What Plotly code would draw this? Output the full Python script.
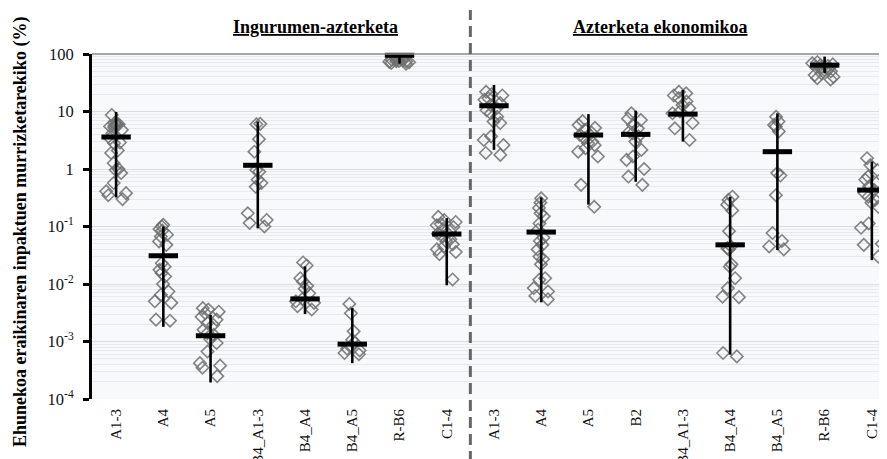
import plotly.graph_objects as go

# ---------------- data ----------------
labels = ["A1-3", "A4", "A5", "B4_A1-3", "B4_A4", "B4_A5", "R-B6", "C1-4",
          "A1-3", "A4", "A5", "B2", "B4_A1-3", "B4_A4", "B4_A5", "R-B6", "C1-4"]

# Environmental analysis (Ingurumen-azterketa) – individual results (%)
env_a13 = [8.7, 6.3, 6.0, 5.8, 5.5, 5.2, 4.8, 6.1, 5.6, 4.2, 3.4, 2.9, 2.8, 2.1, 1.9,
           1.26, 1.0, 0.96, 0.85, 0.57, 0.41, 0.38, 0.35, 0.30]
env_a4 = [0.107, 0.1, 0.09, 0.085, 0.072, 0.067, 0.055, 0.048, 0.023, 0.020, 0.0177,
          0.0155, 0.0135, 0.010, 0.0074, 0.0065, 0.005, 0.0047, 0.0024, 0.0023]
env_a5 = [0.0038, 0.0036, 0.0033, 0.0031, 0.0027, 0.0024, 0.0021, 0.00195, 0.0016,
          0.0014, 0.00131, 0.0011, 0.00094, 0.00067, 0.00042, 0.00038, 0.00035, 0.00025]
env_b4a13 = [6.1, 6.0, 3.3, 2.0, 0.96, 0.9, 0.65, 0.57, 0.49, 0.17, 0.13, 0.115, 0.10]
env_b4a4 = [0.0237, 0.021, 0.0126, 0.011, 0.0093, 0.0083, 0.0069, 0.0055, 0.005,
            0.0047, 0.0041, 0.0036]
env_b4a5 = [0.0045, 0.0031, 0.0015, 0.00107, 0.00095, 0.00085, 0.00075, 0.0007,
            0.00063, 0.0006]
env_rb6 = [90, 85, 82, 80, 78, 76, 75, 73, 72, 70, 68, 75, 80]
env_c14 = [0.147, 0.13, 0.12, 0.11, 0.105, 0.098, 0.09, 0.083, 0.075, 0.067, 0.06,
           0.055, 0.049, 0.045, 0.04, 0.036, 0.033, 0.012]

# Economic analysis (Azterketa ekonomikoa) – individual results (%)
eco_a13 = [22, 20, 19, 17, 16, 14, 13, 11.4, 10.5, 9.3, 8.1, 6.7, 6.3, 3.7, 3.2, 2.6,
           1.9, 1.76]
eco_a4 = [0.31, 0.26, 0.21, 0.17, 0.15, 0.113, 0.088, 0.064, 0.056, 0.048, 0.040,
          0.03, 0.027, 0.022, 0.0126, 0.0118, 0.0085, 0.0074, 0.0062, 0.0054]
eco_a5 = [6.8, 5.8, 5.2, 4.8, 4.3, 3.9, 3.4, 3.0, 2.8, 2.6, 2.3, 2.0, 1.65, 0.53, 0.22]
eco_b2 = [9.3, 7.5, 7.1, 5.8, 5.1, 4.5, 4.2, 3.7, 3.0, 2.15, 1.65, 1.44, 1.0, 0.74, 0.53]
eco_b4a13 = [22, 20.7, 19, 17, 14.9, 13, 11.4, 10, 9.3, 6.3, 5.1, 3.2]
eco_b4a4 = [0.33, 0.29, 0.24, 0.19, 0.083, 0.045, 0.042, 0.040, 0.022, 0.020, 0.0126,
            0.0085, 0.006, 0.0059, 0.00063, 0.00055]
eco_b4a5 = [8.1, 6.7, 5.8, 5.5, 4.5, 0.85, 0.77, 0.35, 0.077, 0.056, 0.045, 0.040]
eco_rb6 = [72, 69, 66, 64, 62, 60, 58, 56, 53, 50, 46, 43, 40, 38, 36]
eco_c14 = [1.54, 1.17, 0.96, 0.74, 0.65, 0.57, 0.50, 0.43, 0.38, 0.33, 0.29, 0.26,
           0.22, 0.113, 0.095, 0.05, 0.048, 0.03]

# summary value (bar) and range (vertical line) per category
centers = [3.6, 0.031, 0.00126, 1.16, 0.0055, 0.0009, 95, 0.074,
           12.6, 0.080, 3.9, 4.0, 9.0, 0.048, 2.0, 64, 0.43]
lows = [0.32, 0.0018, 0.000194, 0.093, 0.0030, 0.00042, 68, 0.0095,
        2.15, 0.0048, 0.24, 0.60, 3.0, 0.00059, 0.039, 46, 0.026]
highs = [9.8, 0.1, 0.0029, 6.7, 0.0202, 0.0038, 98, 0.14,
         28.9, 0.32, 9.0, 10.3, 23.7, 0.33, 9.3, 90, 1.35]

ytick_vals = [1e-4, 1e-3, 1e-2, 1e-1, 1, 10, 100]
ytick_text = ["10<sup>-4</sup>", "10<sup>-3</sup>", "10<sup>-2</sup>", "10<sup>-1</sup>",
              "1", "10", "100"]

group_titles = ["Ingurumen-azterketa", "Azterketa ekonomikoa"]

# ---------------- figure ----------------
point_sets = [env_a13, env_a4, env_a5, env_b4a13, env_b4a4, env_b4a5, env_rb6, env_c14,
              eco_a13, eco_a4, eco_a5, eco_b2, eco_b4a13, eco_b4a4, eco_b4a5, eco_rb6,
              eco_c14]

SERIF = "Liberation Serif"
W, H = 887, 459
ML, MR, MT, MB = 84, 0, 46, 68
PW, PH = W - ML - MR, H - MT - MB
OFF = 8  # page body offset of the figure


def px_to_paper_x(px):
    return (px - OFF - ML) / PW


def px_to_paper_y(py):
    return (H - MB - (py - OFF)) / PH


fig = go.Figure()

for i, pts in enumerate(point_sets):
    fig.add_trace(go.Box(
        x=[i] * len(pts), y=pts,
        boxpoints="all", jitter=0.85, pointpos=0, width=0.64,
        fillcolor="rgba(0,0,0,0)", line=dict(width=0, color="rgba(0,0,0,0)"),
        marker=dict(symbol="diamond-open", size=9.5, color="rgba(110,110,110,0.85)",
                    line=dict(width=1.6)),
        showlegend=False, hoverinfo="y",
    ))

xs = list(range(len(labels)))
fig.add_trace(go.Scatter(
    x=xs, y=centers, mode="markers",
    marker=dict(symbol="line-ew", size=21, line=dict(width=5, color="black"),
                color="black"),
    error_y=dict(type="data", symmetric=False,
                 array=[h - c for h, c in zip(highs, centers)],
                 arrayminus=[c - l for c, l in zip(centers, lows)],
                 color="black", thickness=2.6, width=0),
    showlegend=False, cliponaxis=False,
))

x_range = [-0.51, 16.49]
n_env = 8
sep = n_env - 0.5
sep_paper = (sep - x_range[0]) / (x_range[1] - x_range[0])

fig.update_layout(
    width=W, height=H,
    margin=dict(l=ML, r=MR, t=MT, b=MB, autoexpand=False),
    paper_bgcolor="white",
    plot_bgcolor="#f7f9fb",
    font=dict(family=SERIF, color="black"),
    boxmode="overlay",
    xaxis=dict(
        range=x_range, tickmode="array", tickvals=xs, ticktext=labels,
        tickangle=-90, tickfont=dict(family=SERIF, size=15, color="#111"),
        ticklabelstandoff=6,
        showgrid=False, zeroline=False, showline=False, ticks="",
        automargin=False,
    ),
    yaxis=dict(
        type="log", range=[-4, 2],
        tickmode="array", tickvals=ytick_vals, ticktext=ytick_text,
        tickfont=dict(family=SERIF, size=16.5, color="#111"),
        ticks="outside", ticklen=6, tickwidth=3, tickcolor="black",
        ticklabelstandoff=6,
        showline=True, linewidth=3, linecolor="black",
        showgrid=True, gridcolor="#d8dbdf", gridwidth=1,
        minor=dict(dtick="D1", showgrid=True, gridcolor="#e6e9ed", gridwidth=1,
                   ticks=""),
        zeroline=False, automargin=False,
    ),
    shapes=[
        dict(type="line", xref="paper", yref="paper", x0=0, x1=1, y0=1, y1=1,
             line=dict(color="#8a8a8a", width=1.5), layer="above"),
        dict(type="line", xref="paper", yref="paper", x0=sep_paper, x1=sep_paper,
             y0=px_to_paper_y(462), y1=px_to_paper_y(10),
             line=dict(color="#666666", width=3, dash="11px,6px"), layer="above"),
    ],
    annotations=[
        dict(text="<b>Ehunekoa eraikinaren inpaktuen murrizketarekiko (%)</b>",
             xref="paper", yref="paper", x=px_to_paper_x(20), y=px_to_paper_y(232),
             textangle=-90,
             showarrow=False, font=dict(family=SERIF, size=18, color="black"),
             xanchor="center", yanchor="middle"),
        dict(text="<b><u>" + group_titles[0] + "</u></b>",
             xref="paper", yref="paper", x=px_to_paper_x(315), y=px_to_paper_y(27),
             showarrow=False, font=dict(family=SERIF, size=18, color="black"),
             xanchor="center", yanchor="middle"),
        dict(text="<b><u>" + group_titles[1] + "</u></b>",
             xref="paper", yref="paper", x=px_to_paper_x(660), y=px_to_paper_y(27),
             showarrow=False, font=dict(family=SERIF, size=18, color="black"),
             xanchor="center", yanchor="middle"),
    ],
)

fig.write_html("out.html")
